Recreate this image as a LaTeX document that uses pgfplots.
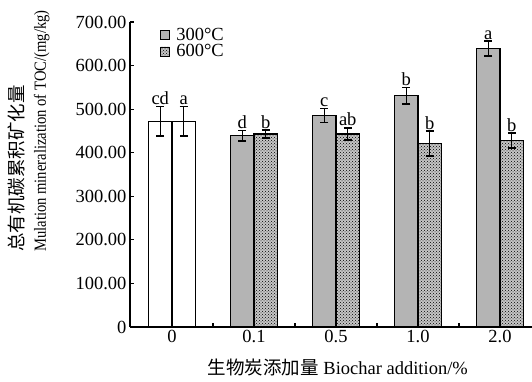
\documentclass[border=0pt]{standalone}
\usepackage{pgfplots}
\pgfplotsset{compat=1.18}
\usepackage{fontspec}
\setmainfont{Liberation Serif}
\newfontfamily\cjk{Noto Sans CJK SC}
\usetikzlibrary{patterns}
\definecolor{bargray}{RGB}{180,180,180}
\newcommand\ff{\fontsize{18.5}{22}\selectfont}

\begin{document}
\begin{tikzpicture}
\begin{axis}[
  scale only axis, width=402pt, height=305pt,
  xmin=-0.512, xmax=4.39, ymin=0, ymax=700,
  axis x line*=bottom, axis y line*=left,
  axis line style={line width=1.2pt},
  xtick={0,1,2,3,4}, xticklabels={0,0.1,0.5,1.0,2.0},
  major x tick style={draw=none},
  minor xtick={0.5,1.5,2.5,3.5},
  minor tick length=4pt, major tick length=4pt,
  tick align=inside,
  tick style={line width=1.2pt, black},
  ytick={0,100,200,300,400,500,600,700},
  yticklabels={0,100.00,200.00,300.00,400.00,500.00,600.00,700.00},
  tick label style={font=\ff},
  /pgf/number format/assume math mode=true,
  legend style={at={(axis description cs:0.075,0.985)}, anchor=north west, draw=none, fill=none, font=\ff, row sep=1pt, inner sep=0pt, nodes={inner sep=1pt}},
  legend cell align=left,
  legend image code/.code={\draw[#1, line width=0.8pt] (0pt,-4.5pt) rectangle (9pt,4.5pt); \path (14pt,0pt);},
  clip=false,
]
% 300 C
\addplot[ybar, bar width=23.5pt, bar shift=-11.75pt, fill=bargray, draw=black, line width=1.2pt]
  coordinates {(1,439) (2,485) (3,531) (4,639)};
\addlegendentry{300°C}
% 600 C
\addplot[ybar, bar width=23.5pt, bar shift=11.75pt, fill=gray!45, draw=black, line width=1.2pt,
  postaction={pattern=crosshatch dots, pattern color=black}]
  coordinates {(1,443) (2,443) (3,421) (4,428)};
\addlegendentry{600°C}
% control (white)
\addplot[ybar, forget plot, bar width=23.5pt, bar shift=-11.75pt, fill=white, draw=black, line width=1.2pt]
  coordinates {(0,472)};
\addplot[ybar, forget plot, bar width=23.5pt, bar shift=11.75pt, fill=white, draw=black, line width=1.2pt]
  coordinates {(0,472)};
% error bars
\addplot[draw=none, mark=none, forget plot, error bars/.cd, y dir=both, y explicit,
  error bar style={line width=1.4pt, black},
  error mark options={rotate=90, mark size=4pt, line width=1.4pt, black}]
  coordinates {(-0.1433,472)+-(0,34) (0.1433,472)+-(0,34)
               (0.8567,439)+-(0,12) (1.1433,443)+-(0,9)
               (1.8567,485)+-(0,16) (2.1433,443)+-(0,14)
               (2.8567,531)+-(0,19) (3.1433,421)+-(0,29)
               (3.8567,639)+-(0,17) (4.1433,428)+-(0,17)};
% letters
\addplot[draw=none, mark=none, forget plot, nodes near coords, point meta=explicit symbolic,
  nodes near coords style={anchor=south, font=\ff, inner sep=1.5pt}]
  coordinates {(-0.1433,506)[cd] (0.1433,506)[a]
               (0.8567,451)[d] (1.1433,452)[b]
               (1.8567,501)[c] (2.1433,457)[ab]
               (2.8567,550)[b] (3.1433,450)[b]
               (3.8567,656)[a] (4.1433,445)[b]};
\node[rotate=90, anchor=west, align=left, inner sep=0pt, font=\ff]
  at (axis description cs:-0.2512,0.2459) {{\cjk 总有机碳累积矿化量}\\\scalebox{0.86}[1]{\fontsize{17}{22}\selectfont Mulation mineralization of TOC/(mg/kg)}};
\node[font=\ff, inner sep=0pt] at (axis description cs:0.517,-0.134) {{\cjk 生物炭添加量} Biochar addition/\%};
\coordinate (SW) at (rel axis cs:0,0);
\coordinate (NE) at (rel axis cs:1,1);
\end{axis}
\pgfresetboundingbox
\path[use as bounding box] ([xshift=-130pt,yshift=-55pt]SW) rectangle ([yshift=22pt]NE);
\end{tikzpicture}
\end{document}
